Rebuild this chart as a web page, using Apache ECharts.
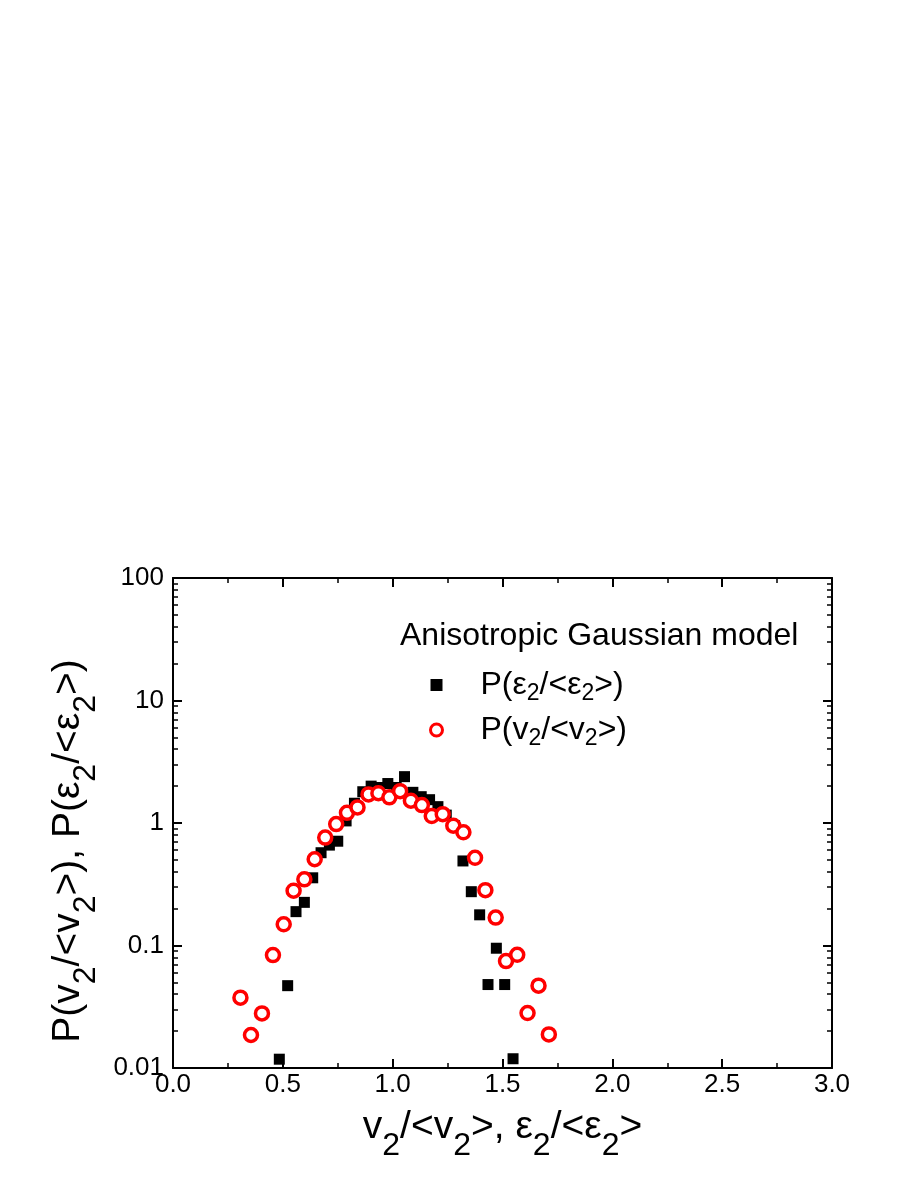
<!DOCTYPE html>
<html>
<head>
<meta charset="utf-8">
<script src="https://cdn.jsdelivr.net/npm/echarts@6/dist/echarts.min.js"></script>
<style>
html, body { margin: 0; padding: 0; background: #fff; }
#chart { width: 913px; height: 1182px; }
</style>
</head>
<body>
<div id="chart"></div>
<script>
// P(eps2/<eps2>) -- black squares
var epsX = [0.484, 0.522, 0.560, 0.598, 0.636, 0.674, 0.712, 0.750, 0.788, 0.826,
            0.864, 0.902, 0.940, 0.978, 1.016, 1.054, 1.092, 1.130, 1.168, 1.206,
            1.244, 1.282, 1.320, 1.358, 1.396, 1.434, 1.472, 1.510, 1.548];
var epsY = [0.0118, 0.047, 0.189, 0.225, 0.357, 0.572, 0.66, 0.71, 1.04, 1.45,
            1.80, 2.0, 1.95, 2.1, 1.95, 2.39, 1.78, 1.64, 1.55, 1.36,
            1.16, 0.95, 0.49, 0.275, 0.178, 0.048, 0.095, 0.048, 0.0119];

// P(v2/<v2>) -- red open circles
var vX = [0.307, 0.355, 0.405, 0.455, 0.504, 0.549, 0.598, 0.645, 0.693, 0.743,
          0.792, 0.840, 0.890, 0.935, 0.985, 1.034, 1.083, 1.133, 1.178, 1.228,
          1.276, 1.322, 1.375, 1.422, 1.469, 1.516, 1.567, 1.614, 1.664, 1.711];
var vY = [0.0375, 0.0186, 0.0279, 0.0835, 0.149, 0.28, 0.347, 0.506, 0.76, 0.98,
          1.21, 1.34, 1.71, 1.75, 1.62, 1.82, 1.52, 1.40, 1.14, 1.18,
          0.95, 0.84, 0.52, 0.283, 0.169, 0.0746, 0.084, 0.0281, 0.047, 0.0188];

// minor ticks of the log axis
var yMinorTicks = [0.02, 0.03, 0.04, 0.05, 0.06, 0.07, 0.08, 0.09,
                   0.2, 0.3, 0.4, 0.5, 0.6, 0.7, 0.8, 0.9,
                   2, 3, 4, 5, 6, 7, 8, 9,
                   20, 30, 40, 50, 60, 70, 80, 90];

var FONT = "'Liberation Sans', Arial, sans-serif";
var epsName = 'P(ε2/<ε2>)';
var vName = 'P(v2/<v2>)';
var legendText = {};
legendText[epsName] = '{b|P(ε}{s|2}{b|/<ε}{s|2}{b|>)}';
legendText[vName] = '{b|P(v}{s|2}{b|/<v}{s|2}{b|>)}';

function pairs(xs, ys) {
  return xs.map(function (x, i) { return [x, ys[i]]; });
}

// base text hangs from the top of the line, subscripts sit on its bottom
function richStyle(size, subSize, lh) {
  return {
    b: { fontSize: size, lineHeight: lh, fontFamily: FONT, color: '#000', verticalAlign: 'top' },
    s: { fontSize: subSize, lineHeight: lh, fontFamily: FONT, color: '#000', verticalAlign: 'bottom' }
  };
}

function xAxisCfg(pos, showLabel) {
  return {
    type: 'value', position: pos, min: 0, max: 3, interval: 0.5,
    axisLine: { show: true, onZero: false, lineStyle: { color: '#000', width: 2 } },
    axisTick: { show: true, inside: true, length: 9, lineStyle: { color: '#000', width: 2 } },
    minorTick: { show: true, splitNumber: 2, length: 5, lineStyle: { color: '#000', width: 1.5 } },
    axisLabel: {
      show: showLabel, fontSize: 26, color: '#000', fontFamily: FONT, margin: 4,
      formatter: function (v) { return v.toFixed(1); }
    },
    splitLine: { show: false },
    minorSplitLine: { show: false }
  };
}

function yAxisCfg(pos, minor, showLabel) {
  var cfg = {
    type: 'log', logBase: 10, min: 0.01, max: 100, position: pos,
    axisLine: { show: !minor, onZero: false, lineStyle: { color: '#000', width: 2 } },
    axisTick: { show: true, inside: true, length: minor ? 5 : 9,
                lineStyle: { color: '#000', width: minor ? 1.5 : 2 } },
    axisLabel: {
      show: showLabel, fontSize: 26, color: '#000', fontFamily: FONT, margin: 9,
      formatter: function (v) { return String(Number(v.toPrecision(3))); }
    },
    splitLine: { show: false }
  };
  if (minor) cfg.axisTick.customValues = yMinorTicks;
  return cfg;
}

var chart = echarts.init(document.getElementById('chart'), null, { renderer: 'canvas' });

var yMain = yAxisCfg('left', false, true);
yMain.name = '{b|P(v}{s|2}{b|/<v}{s|2}{b|>), P(ε}{s|2}{b|/<ε}{s|2}{b|>)}';
yMain.nameLocation = 'middle';
yMain.nameRotate = 90;
yMain.nameGap = 69;
yMain.nameTextStyle = { padding: [0, 56, 0, 0], rich: richStyle(39, 32, 54) };

var xMain = xAxisCfg('bottom', true);
xMain.name = '{b|v}{s|2}{b|/<v}{s|2}{b|>, ε}{s|2}{b|/<ε}{s|2}{b|>}';
xMain.nameLocation = 'middle';
xMain.nameGap = 40;
xMain.nameTextStyle = { rich: richStyle(39, 32, 54) };

chart.setOption({
  animation: false,
  backgroundColor: '#fff',
  title: {
    text: 'Anisotropic Gaussian model',
    left: 400, top: 620, padding: 0,
    textStyle: { fontSize: 32, fontWeight: 'normal', color: '#000', fontFamily: FONT }
  },
  legend: {
    orient: 'vertical', left: 429, top: 669, padding: 0,
    itemGap: 9, itemWidth: 12, itemHeight: 12,
    selectedMode: false,
    data: [
      { name: epsName, itemStyle: { color: '#000', borderWidth: 0 } },
      { name: vName, itemStyle: { color: '#fff', borderColor: '#ff0000', borderWidth: 3 } }
    ],
    formatter: function (name) { return legendText[name]; },
    textStyle: { padding: [4, 0, 0, 33], rich: richStyle(32, 23, 36) }
  },
  grid: { left: 173, top: 578, width: 659, height: 490, containLabel: false },
  xAxis: [xMain, xAxisCfg('top', false)],
  yAxis: [yMain, yAxisCfg('left', true, false), yAxisCfg('right', false, false), yAxisCfg('right', true, false)],
  series: [
    {
      name: epsName, type: 'scatter', xAxisIndex: 0, yAxisIndex: 0,
      symbol: 'rect', symbolSize: 11,
      itemStyle: { color: '#000', opacity: 1 },
      data: pairs(epsX, epsY), z: 2
    },
    {
      name: vName, type: 'scatter', xAxisIndex: 0, yAxisIndex: 0,
      symbol: 'circle', symbolSize: 13,
      itemStyle: { color: '#fff', borderColor: '#ff0000', borderWidth: 3.5, opacity: 1 },
      data: pairs(vX, vY), z: 3
    }
  ]
});
</script>
</body>
</html>
